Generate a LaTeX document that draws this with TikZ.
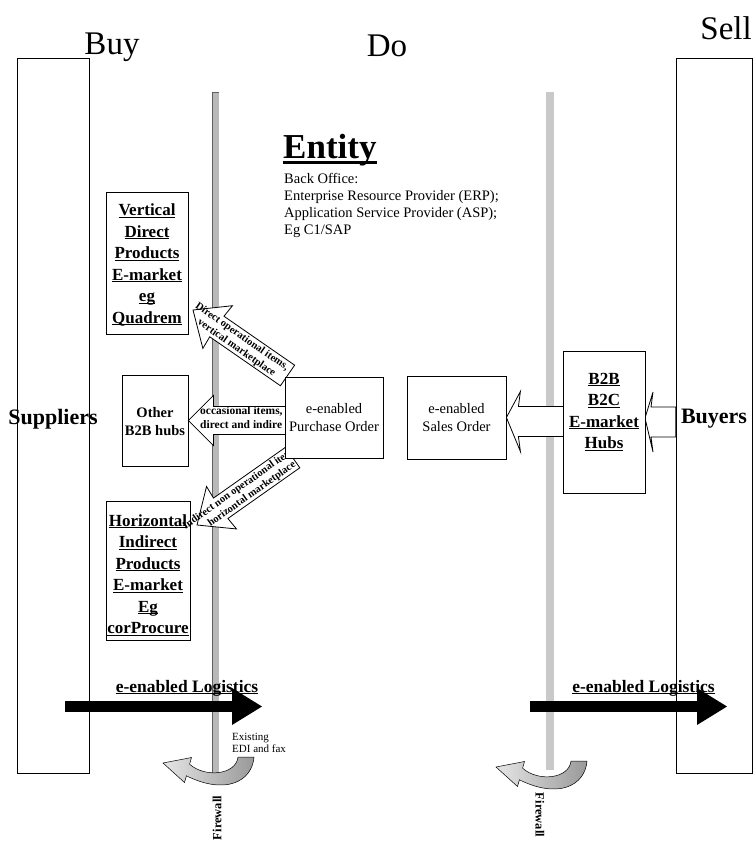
\documentclass[tikz,border=0pt]{standalone}
\usepackage{fontspec}
\setmainfont{Liberation Serif}
\usetikzlibrary{calc}
% underlined text with a rule scaled to the font size
\newcommand\ulb[1]{\leavevmode\setbox0\hbox{#1}\rlap{\copy0}\rule[-0.13em]{\wd0}{0.065em}}
\tikzset{
  box/.style={draw, line width=0.8pt, fill=white, inner sep=0pt, align=center},
  column/.style={draw, line width=0.7pt, inner sep=0pt},
  market/.style={font=\fontsize{17}{21.5}\selectfont\bfseries, align=center, inner sep=0pt},
  order/.style={font=\fontsize{14.5}{18}\selectfont},
  blockarrow/.style={draw, line width=0.8pt, fill=white, line join=miter},
  arrtxt/.style={font=\fontsize{10.5}{10.5}\selectfont\bfseries, inner sep=0pt, transform shape},
  heading/.style={font=\fontsize{33}{33}\selectfont, anchor=base, inner sep=0pt},
  sidelabel/.style={font=\fontsize{22}{22}\selectfont\bfseries, inner sep=0pt},
  loglabel/.style={font=\fontsize{17.5}{17.5}\selectfont\bfseries, anchor=base, inner sep=0pt},
  fwlabel/.style={font=\fontsize{12.5}{12.5}\selectfont\bfseries, inner sep=0pt},
  uturn/.pic={
    \shade[left color=gray!20, right color=gray!80, draw=black, line width=0.5pt]
      (39,-6) .. controls (37,19) and (10,32) .. (-28.6,12.8)
      -- (-30.5,19.5) -- (-52,0) -- (-23.5,-5.5) -- (-25.4,1.2)
      .. controls (-10,15) and (21,12) .. (23,-6) -- cycle;
  }
}
\begin{document}
\begin{tikzpicture}[x=1pt,y=-1pt]
\useasboundingbox[fill=white] (0,0) rectangle (752,845);

% columns for the two outside parties
\node[column, minimum width=72pt, minimum height=715pt] (supcol) at (53,415.5) {};
\node[column, minimum width=76pt, minimum height=715pt] (buycol) at (714,415.5) {};

% firewalls
\fill[gray!55] (212,92) rectangle (219,773);
\draw[gray!75!black, line width=0.6pt] (212,92) -- (212,773) (212,92) -- (219,92);
\fill[gray!42] (546,92) rectangle (554,770);

% logistics arrows
\fill (65,701) rectangle (233,712);
\fill (232,688) -- (262,706.5) -- (232,725) -- cycle;
\fill (530,701) rectangle (698,712);
\fill (697,688) -- (727,706.5) -- (697,725) -- cycle;

% block arrows on the purchase side
\node[box, minimum width=66pt, minimum height=91pt] (other) at (155,420.5) {};
\draw[blockarrow] (other.east) -- ++(25,-25) -- ++(0,11) -- ++(75,0) -- ++(0,28) -- ++(-75,0) -- ++(0,11) -- cycle;
\begin{scope}[shift={(193,310)}, rotate=-34.7]
  \draw[blockarrow] (0,0) -- (30,-26) -- (29,-12.5) -- (115,-12.5) -- (115,12.5) -- (29,12.5) -- (30,26) -- cycle;
\end{scope}
\begin{scope}[shift={(197,525)}, rotate=35.2]
  \draw[blockarrow] (0,0) -- (30,-26) -- (29,-12.5) -- (117,-12.5) -- (117,12.5) -- (29,12.5) -- (30,26) -- cycle;
\end{scope}

% block arrows on the sales side
\node[box, minimum width=99pt, minimum height=83pt] (so) at (456.5,417.5) {};
\draw[blockarrow] (so.east) -- ++(14,-26) -- ++(-2,15) -- ++(47,0) -- ++(0,30) -- ++(-47,0) -- ++(2,15) -- cycle;
\coordinate (hubtip) at (645,418);
\draw[blockarrow] (hubtip) -- ++(8,-26) -- ++(-2,15) -- (buycol.west |- 0,407) -- (buycol.west |- 0,437) -- (651,437) -- ++(2,15) -- cycle;

% marketplace boxes on the buy side
\node[box, minimum width=82pt, minimum height=142pt] (vert) at (147,263) {};
\node[market] (verttext) at (147,265) {\ulb{Vertical}\\\ulb{Direct}\\\ulb{Products}\\\ulb{E-market}\\\ulb{eg}\\\ulb{Quadrem}};
\node[font=\fontsize{14.5}{18}\selectfont\bfseries, align=center] (othertext) at (155,422) {Other\\B2B hubs};
\node[box, minimum width=84pt, minimum height=139pt] (horiz) at (148,570.5) {};
\node[market] (horiztext) at (148,575) {\ulb{Horizontal}\\\ulb{Indirect}\\\ulb{Products}\\\ulb{E-market}\\\ulb{Eg}\\\ulb{corProcure}};

% texts on the purchase arrows
\node[font=\fontsize{11.5}{11.5}\selectfont\bfseries, anchor=base west, inner sep=0pt] (occ1) at (200,414) {occasional items,};
\node[font=\fontsize{11.5}{11.5}\selectfont\bfseries, anchor=base west, inner sep=0pt] (occ2) at (200,428) {direct and indire};
\begin{scope}[shift={(193,310)}, rotate=-34.7]
  \node[arrtxt, anchor=base west] (dir1) at (0,-3) {Direct operational items,};
  \node[arrtxt, anchor=base west] (dir2) at (11,9) {vertical marketplace};
\end{scope}
\begin{scope}[shift={(197,525)}, rotate=35.2]
  \node[arrtxt, anchor=base west] (ind1) at (-12,-3) {Indirect non operational items,};
  \node[arrtxt, anchor=base west] (ind2) at (10,9) {horizontal marketplace};
\end{scope}

% order boxes and the hub box
\node[box, order, minimum width=98pt, minimum height=81pt] (po) at (334,417.5) {e-enabled\\Purchase Order};
\node[box, order, minimum width=99pt, minimum height=83pt] (so2) at (456.5,417.5) {e-enabled\\Sales Order};
\node[box, minimum width=82pt, minimum height=142pt] (hub) at (604,422) {};
\node[market] (hubtext) at (604,412) {\ulb{B2B}\\\ulb{B2C}\\\ulb{E-market}\\\ulb{Hubs}};

% side labels
\node[sidelabel] (suppliers) at (53,419) {Suppliers};
\node[sidelabel] (buyers) at (714,419) {Buyers};

% headings
\node[heading] (buy) at (112,55) {Buy};
\node[heading] (do) at (387,57) {Do};
\node[heading, anchor=base east] (sell) at (752,40) {Sell};

% entity block
\node[font=\fontsize{35}{35}\selectfont\bfseries, anchor=base west, inner sep=0pt] (entity) at (283,159) {\ulb{Entity}};
\node[anchor=north west, align=left, font=\fontsize{14.5}{17}\selectfont, inner sep=0pt] (backoffice) at (284,173)
  {Back Office:\\Enterprise Resource Provider (ERP);\\Application Service Provider (ASP);\\Eg C1/SAP};

% logistics labels
\node[loglabel] (log1) at (187,692) {\ulb{e-enabled Logistics}};
\node[loglabel] (log2) at (643.5,692) {\ulb{e-enabled Logistics}};

% returns under the firewalls
\pic (turnleft) at (215,763) {uturn};
\pic (turnright) at (548,767) {uturn};
\node[anchor=north west, align=left, font=\fontsize{11}{12.5}\selectfont, inner sep=0pt] (edi) at (232,733) {Existing\\EDI and fax};

% firewall labels
\node[fwlabel, rotate=90] (fw1) at (217,818) {Firewall};
\node[fwlabel, rotate=-90] (fw2) at (540,815) {Firewall};
\end{tikzpicture}
\end{document}
